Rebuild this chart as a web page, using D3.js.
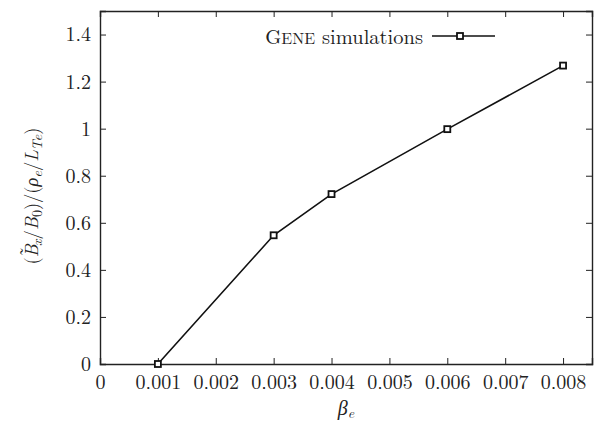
<!DOCTYPE html>
<html lang="en">
<head>
<meta charset="UTF-8">
<title>GENE simulations</title>
<script src="https://d3js.org/d3.v7.min.js"></script>
<style>
  body { margin: 0; background: #fff; }
  svg, svg text { font-family: "Latin Modern Roman", "Liberation Serif", serif; }
</style>
</head>
<body>
<div id="chart"></div>
<script>
// values
const beta = [0.001, 0.003, 0.004, 0.006, 0.008];
const bx = [0.0, 0.547, 0.722, 0.998, 1.268];
const xTicks = [0, 0.001, 0.002, 0.003, 0.004, 0.005, 0.006, 0.007, 0.008];
const yTicks = [0, 0.2, 0.4, 0.6, 0.8, 1, 1.2, 1.4];

const ink = "#222";

const width = 607, height = 424;
const margin = {top: 11, right: 15, bottom: 60, left: 100};

const svg = d3.select("#chart").append("svg")
    .attr("width", width)
    .attr("height", height);

const x = d3.scaleLinear().domain([0, 0.0085]).range([margin.left, width - margin.right]);
const y = d3.scaleLinear().domain([0, 1.5]).range([height - margin.bottom, margin.top]);

const tickLen = 6;
const fmtX = d => d === 0 ? "0" : d3.format(".3f")(d);
const fmtY = d => d === 0 || d === 1 ? String(d) : d3.format(".1f")(d);

function styleAxis(g) {
    g.attr("font-family", null);
    g.selectAll("text").attr("font-size", 20).attr("fill", ink);
}

// bottom + top axes, ticks pointing inward
svg.append("g")
    .attr("transform", `translate(0,${y(0)})`)
    .call(d3.axisBottom(x).tickValues(xTicks).tickSize(-tickLen).tickPadding(11).tickFormat(fmtX))
    .call(styleAxis);
svg.append("g")
    .attr("transform", `translate(0,${y(1.5)})`)
    .call(d3.axisTop(x).tickValues(xTicks).tickSize(-tickLen).tickFormat(""));

// left + right axes
svg.append("g")
    .attr("transform", `translate(${x(0)},0)`)
    .call(d3.axisLeft(y).tickValues(yTicks).tickSize(-tickLen).tickPadding(9).tickFormat(fmtY))
    .call(styleAxis);
svg.append("g")
    .attr("transform", `translate(${x(0.0085)},0)`)
    .call(d3.axisRight(y).tickValues(yTicks).tickSize(-tickLen).tickFormat(""));

svg.selectAll(".domain").attr("stroke", ink).attr("stroke-width", 1.4);
svg.selectAll(".tick line").attr("stroke", ink).attr("stroke-width", 1);

// data line
const line = d3.line().x((d, i) => x(beta[i])).y(d => y(d));
svg.append("path")
    .datum(bx)
    .attr("fill", "none")
    .attr("stroke", "#111")
    .attr("stroke-width", 1.6)
    .attr("d", line);

const ms = 6;
svg.selectAll(".pt")
    .data(bx)
    .join("rect")
    .attr("x", (d, i) => x(beta[i]) - ms / 2)
    .attr("y", d => y(d) - ms / 2)
    .attr("width", ms)
    .attr("height", ms)
    .attr("fill", "#fff")
    .attr("stroke", "#111")
    .attr("stroke-width", 1.8);

// legend
const leg = svg.append("g");
const legText = leg.append("text")
    .attr("x", 423)
    .attr("y", 44)
    .attr("text-anchor", "end")
    .attr("font-size", 20.5)
    .attr("fill", ink);
legText.append("tspan").text("G");
legText.append("tspan").attr("font-size", 16).text("ENE");
legText.append("tspan").text(" simulations");
leg.append("line")
    .attr("x1", 432).attr("x2", 495)
    .attr("y1", 36).attr("y2", 36)
    .attr("stroke", "#111").attr("stroke-width", 1.6);
leg.append("rect")
    .attr("x", 460 - ms / 2).attr("y", 36 - ms / 2)
    .attr("width", ms).attr("height", ms)
    .attr("fill", "#fff").attr("stroke", "#111").attr("stroke-width", 1.8);

// axis titles
svg.append("text")
    .attr("x", x(0.00425))
    .attr("y", 415)
    .attr("text-anchor", "middle")
    .attr("font-size", 20)
    .attr("font-style", "italic")
    .attr("fill", ink)
    .html('β<tspan font-size="14" dy="3">e</tspan>');

const yl = svg.append("text")
    .attr("transform", `translate(38,196) rotate(-90)`)
    .attr("text-anchor", "middle")
    .attr("font-size", 18.5)
    .attr("fill", ink);
yl.append("tspan").text("(");
yl.append("tspan").attr("font-style", "italic").text("B");
yl.append("tspan").attr("dx", -12).attr("dy", -5).text("\u02DC");
yl.append("tspan").attr("font-style", "italic").attr("font-size", 14).attr("dx", 1).attr("dy", 9).text("x");
yl.append("tspan").attr("dy", -4).text("/");
yl.append("tspan").attr("font-style", "italic").text("B");
yl.append("tspan").attr("font-size", 14).attr("dy", 4).text("0");
yl.append("tspan").attr("dy", -4).text(")/(");
yl.append("tspan").attr("font-style", "italic").text("ρ");
yl.append("tspan").attr("font-style", "italic").attr("font-size", 14).attr("dy", 4).text("e");
yl.append("tspan").attr("dy", -4).text("/");
yl.append("tspan").attr("font-style", "italic").text("L");
yl.append("tspan").attr("font-style", "italic").attr("font-size", 14).attr("dy", 4).text("Te");
yl.append("tspan").attr("dy", -4).text(")");
</script>
</body>
</html>
